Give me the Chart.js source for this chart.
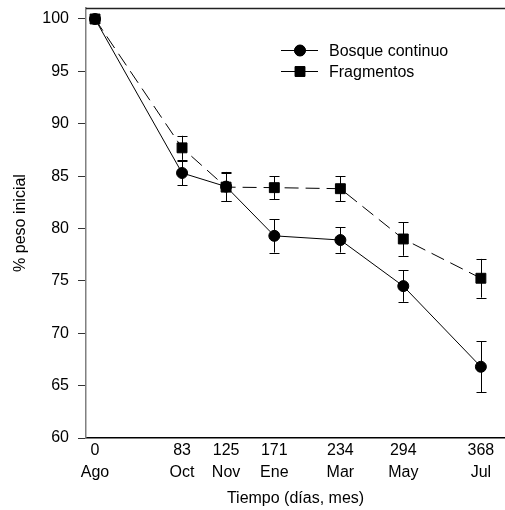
<!DOCTYPE html>
<html>
<head>
<meta charset="utf-8">
<script src="https://cdn.jsdelivr.net/npm/chart.js@4/dist/chart.umd.min.js"></script>
<style>
  html, body { margin: 0; padding: 0; background: #fff; }
  #wrap { width: 505px; height: 510px; }
</style>
</head>
<body>
<div id="wrap"><canvas id="c" width="505" height="510"></canvas></div>
<script>
// ---- data ----
const days = [0, 83, 125, 171, 234, 294, 368];
const months = ['Ago', 'Oct', 'Nov', 'Ene', 'Mar', 'May', 'Jul'];
const continuo = [100, 85.3, 84.0, 79.3, 78.9, 74.5, 66.8];
const continuoErr = [0, 1.15, 1.4, 1.6, 1.2, 1.5, 2.45];
const fragmentos = [100, 87.7, 83.95, 83.9, 83.8, 79.0, 75.25];
const fragmentosErr = [0, 1.15, 1.35, 1.1, 1.2, 1.6, 1.85];
const yTicks = [60, 65, 70, 75, 80, 85, 90, 95, 100];
const seriesNames = ['Bosque continuo', 'Fragmentos'];

const FONT = 'Liberation Sans, Arial, Helvetica, sans-serif';

const toPoints = (vals) => days.map((d, i) => ({ x: d, y: vals[i] }));

const errorBars = {
  id: 'errorBars',
  beforeDatasetsDraw(chart) {
    const ctx = chart.ctx;
    const xs = chart.scales.x, ys = chart.scales.y;
    const sets = [continuoErr, fragmentosErr];
    ctx.save();
    ctx.strokeStyle = '#000';
    ctx.lineWidth = 1;
    chart.data.datasets.forEach((ds, di) => {
      const errs = sets[di];
      ds.data.forEach((p, i) => {
        const e = errs[i];
        if (!e) return;
        const x = Math.round(xs.getPixelForValue(p.x)) + 0.5;
        const y1 = ys.getPixelForValue(p.y + e);
        const y2 = ys.getPixelForValue(p.y - e);
        ctx.beginPath();
        ctx.moveTo(x, y1); ctx.lineTo(x, y2);
        ctx.moveTo(x - 5, Math.round(y1) + 0.5); ctx.lineTo(x + 5, Math.round(y1) + 0.5);
        ctx.moveTo(x - 5, Math.round(y2) + 0.5); ctx.lineTo(x + 5, Math.round(y2) + 0.5);
        ctx.stroke();
      });
    });
    ctx.restore();
  }
};

const frameAndLegend = {
  id: 'frameAndLegend',
  afterDraw(chart) {
    const ctx = chart.ctx;
    const a = chart.chartArea;
    ctx.save();
    ctx.setLineDash([]);
    // top frame line
    ctx.strokeStyle = '#222';
    ctx.lineWidth = 1.5;
    ctx.beginPath();
    ctx.moveTo(a.left, Math.round(a.top) + 0.5);
    ctx.lineTo(a.right, Math.round(a.top) + 0.5);
    ctx.stroke();
    // legend
    const rows = [50.5, 71.5];
    chart.data.datasets.forEach((ds, i) => {
      const y = rows[i];
      ctx.strokeStyle = '#000';
      ctx.lineWidth = 1;
      ctx.beginPath();
      ctx.moveTo(281, y); ctx.lineTo(318, y);
      ctx.stroke();
      ctx.fillStyle = '#000';
      Chart.helpers.drawPoint(ctx, {
        pointStyle: ds.pointStyle, radius: ds.pointRadius, rotation: 0, borderWidth: 1
      }, 300, y);
      ctx.fill();
      ctx.fillStyle = '#000';
      ctx.font = '16px ' + FONT;
      ctx.textBaseline = 'middle';
      ctx.textAlign = 'left';
      ctx.fillText(seriesNames[i], 329, y + 1);
    });
    ctx.restore();
  }
};

new Chart(document.getElementById('c'), {
  type: 'line',
  data: {
    datasets: [
      {
        label: seriesNames[0],
        data: toPoints(continuo),
        borderColor: '#000',
        borderWidth: 1,
        backgroundColor: '#000',
        pointBackgroundColor: '#000',
        pointBorderColor: '#000',
        pointStyle: 'circle',
        pointRadius: 5.5,
        pointBorderWidth: 1,
        tension: 0
      },
      {
        label: seriesNames[1],
        data: toPoints(fragmentos),
        borderColor: '#000',
        borderWidth: 1,
        borderDash: [14, 7],
        backgroundColor: '#000',
        pointBackgroundColor: '#000',
        pointBorderColor: '#000',
        pointStyle: 'rect',
        pointRadius: 7,
        pointBorderWidth: 1,
        tension: 0
      }
    ]
  },
  options: {
    responsive: false,
    animation: false,
    devicePixelRatio: 1,
    clip: false,
    layout: { padding: { top: 8, left: 0, right: 0, bottom: 0 }, autoPadding: false },
    plugins: { legend: { display: false }, tooltip: { enabled: false } },
    scales: {
      x: {
        type: 'linear',
        min: -8.6,
        max: 391,
        afterBuildTicks(scale) { scale.ticks = days.map(v => ({ value: v })); },
        afterFit(scale) { scale.height = 72; scale.paddingLeft = 0; scale.paddingRight = 0; },
        grid: { display: false, drawTicks: false },
        border: { display: true, color: '#000', width: 1.5 },
        ticks: {
          autoSkip: false,
          maxRotation: 0,
          padding: 2,
          color: '#000',
          font: { family: FONT, size: 16, lineHeight: 1.35 },
          callback(v) {
            const i = days.indexOf(v);
            return i >= 0 ? [String(days[i]), months[i]] : '';
          }
        },
        title: {
          display: true,
          text: 'Tiempo (días, mes)',
          color: '#000',
          font: { family: FONT, size: 16 },
          padding: { top: 0, bottom: 1.5 }
        }
      },
      y: {
        type: 'linear',
        min: 60,
        max: 101.05,
        afterBuildTicks(scale) { scale.ticks = yTicks.map(v => ({ value: v })); },
        afterFit(scale) { scale.width = 86; scale.paddingTop = 0; scale.paddingBottom = 0; },
        grid: { display: true, drawOnChartArea: false, drawTicks: true, tickLength: 8, color: '#333', lineWidth: 1 },
        border: { display: true, color: '#808080', width: 1.5 },
        ticks: {
          padding: 9,
          color: '#000',
          font: { family: FONT, size: 16 },
          callback(v) { return String(v); }
        },
        title: {
          display: true,
          text: '% peso inicial',
          color: '#000',
          font: { family: FONT, size: 16 },
          padding: { top: 11, bottom: 0 }
        }
      }
    }
  },
  plugins: [errorBars, frameAndLegend]
});
</script>
</body>
</html>
